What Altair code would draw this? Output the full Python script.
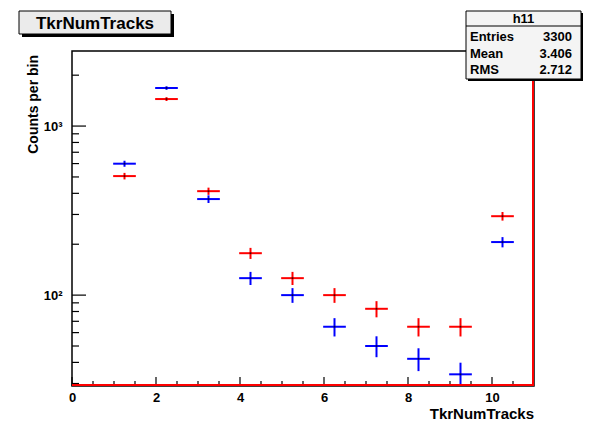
import altair as alt
import pandas as pd
import numpy as np

# Histogram contents (bin centres and counts per bin)
bin_centers = [1.25, 2.25, 3.25, 4.25, 5.25, 6.25, 7.25, 8.25, 9.25, 10.25]
red_counts = [506, 1445, 412, 177, 126, 100, 83, 65, 65, 293]
blue_counts = [599, 1679, 370, 126, 100, 65, 50, 42, 34, 206]
half_bin = 0.27

# Axis ticks
x_major = [0, 2, 4, 6, 8, 10]
x_minor = [0.5, 1, 1.5, 2.5, 3, 3.5, 4.5, 5, 5.5, 6.5, 7, 7.5, 8.5, 9, 9.5, 10.5]
y_major = [100, 1000]
y_minor = [30, 40, 50, 60, 70, 80, 90, 200, 300, 400, 500, 600, 700, 800, 900, 2000]

# Stats box text
stats_name = "h11"
stats_labels = ["Entries", "Mean", "RMS"]
stats_values = ["3300", "3.406", "2.712"]

W, H = 462, 335
FONT = "Liberation Sans"

xscale = alt.Scale(domain=[0, 11], nice=False, zero=False)
yscale = alt.Scale(type="log", domain=[29, 2780], nice=False)

xaxis = alt.Axis(values=x_major, domain=False, ticks=False, grid=False, title=None,
                 labelFont=FONT, labelFontWeight="bold", labelFontSize=13,
                 labelColor="black", labelPadding=5, labelFlush=False)
yaxis = alt.Axis(values=y_major, domain=False, ticks=False, grid=False, title=None,
                 labelFont=FONT, labelFontWeight="bold", labelFontSize=13,
                 labelColor="black", labelPadding=10, labelFlush=False,
                 labelExpr="datum.value == 1000 ? '10\u00b3' : '10\u00b2'")


def series(counts, name):
    c = np.array(counts, dtype=float)
    err = np.sqrt(c)
    return pd.DataFrame({
        "series": name,
        "x": bin_centers,
        "xlo": np.array(bin_centers) - half_bin,
        "xhi": np.array(bin_centers) + half_bin,
        "y": c,
        "ylo": c - err,
        "yhi": c + err,
    })


df = pd.concat([series(blue_counts, "blue"), series(red_counts, "red")], ignore_index=True)
colors = alt.Scale(domain=["blue", "red"], range=["#0000ff", "#ff0000"])

base = alt.Chart(df)

hbars = base.mark_rule(strokeWidth=2, clip=True).encode(
    x=alt.X("xlo:Q", scale=xscale, axis=xaxis),
    x2="xhi:Q",
    y=alt.Y("y:Q", scale=yscale, axis=yaxis),
    color=alt.Color("series:N", scale=colors, legend=None),
)
vbars = base.mark_rule(strokeWidth=2, clip=True).encode(
    x=alt.X("x:Q", scale=xscale, axis=xaxis),
    y=alt.Y("ylo:Q", scale=yscale, axis=yaxis),
    y2="yhi:Q",
    color=alt.Color("series:N", scale=colors, legend=None),
)
dots = base.mark_square(size=3, color="black", opacity=0.7, clip=True).encode(
    x=alt.X("x:Q", scale=xscale, axis=xaxis),
    y=alt.Y("y:Q", scale=yscale, axis=yaxis),
)

# Inward-pointing tick marks on the frame
def xticks(vals, length):
    return alt.Chart(pd.DataFrame({"v": vals})).mark_rule(color="black", strokeWidth=1.2).encode(
        x=alt.X("v:Q", scale=xscale, axis=xaxis),
        y=alt.value(H - length),
        y2=alt.value(H),
    )


def yticks(vals, length):
    return alt.Chart(pd.DataFrame({"v": vals})).mark_rule(color="black", strokeWidth=1.2).encode(
        y=alt.Y("v:Q", scale=yscale, axis=yaxis),
        x=alt.value(0),
        x2=alt.value(length),
    )


one = pd.DataFrame({"k": [0]})

# Red histogram edge along bottom and right side
red_bottom = alt.Chart(one).mark_rule(color="#ff0000", strokeWidth=2).encode(
    x=alt.value(0), x2=alt.value(W - 1), y=alt.value(H - 1))
red_right = alt.Chart(one).mark_rule(color="#ff0000", strokeWidth=2).encode(
    x=alt.value(W - 1), y=alt.value(0), y2=alt.value(H))

# Axis titles
xtitle = alt.Chart(pd.DataFrame({"t": ["TkrNumTracks"]})).mark_text(
    font=FONT, fontWeight="bold", fontSize=15, align="right", baseline="middle", color="black"
).encode(text="t:N", x=alt.value(W), y=alt.value(H + 28))
ytitle = alt.Chart(pd.DataFrame({"t": ["Counts per bin"]})).mark_text(
    font=FONT, fontWeight="bold", fontSize=14, align="right", baseline="middle",
    angle=270, color="black"
).encode(text="t:N", x=alt.value(-38), y=alt.value(4))

# Title box
tb_x0, tb_x1, tb_y0, tb_y1 = -53, 99, -40, -17
title_shadow = alt.Chart(one).mark_rect(color="black").encode(
    x=alt.value(tb_x0 + 3), x2=alt.value(tb_x1 + 3), y=alt.value(tb_y0 + 3), y2=alt.value(tb_y1 + 3))
title_box = alt.Chart(one).mark_rect(fill="#ebebeb", stroke="black", strokeWidth=1).encode(
    x=alt.value(tb_x0), x2=alt.value(tb_x1), y=alt.value(tb_y0), y2=alt.value(tb_y1))
title_text = alt.Chart(pd.DataFrame({"t": ["TkrNumTracks"]})).mark_text(
    font=FONT, fontWeight="bold", fontSize=17, align="center", baseline="middle", color="black"
).encode(text="t:N", x=alt.value((tb_x0 + tb_x1) / 2), y=alt.value((tb_y0 + tb_y1) / 2 + 1))

# Statistics box
sb_x0, sb_x1, sb_y0, sb_y1 = 394, 509, -40, 28
stats_shadow = alt.Chart(one).mark_rect(color="black").encode(
    x=alt.value(sb_x0 + 2), x2=alt.value(sb_x1 + 2), y=alt.value(sb_y0 + 2), y2=alt.value(sb_y1 + 2))
stats_box = alt.Chart(one).mark_rect(fill="#f4f4f4", stroke="black", strokeWidth=1).encode(
    x=alt.value(sb_x0), x2=alt.value(sb_x1), y=alt.value(sb_y0), y2=alt.value(sb_y1))
stats_sep = alt.Chart(one).mark_rule(color="black", strokeWidth=1).encode(
    x=alt.value(sb_x0), x2=alt.value(sb_x1), y=alt.value(-25))
stats_head = alt.Chart(pd.DataFrame({"t": [stats_name]})).mark_text(
    font=FONT, fontWeight="bold", fontSize=13, align="center", baseline="middle", color="black"
).encode(text="t:N", x=alt.value((sb_x0 + sb_x1) / 2), y=alt.value(-32))

stats_df = pd.DataFrame({"label": stats_labels, "value": stats_values, "row": [0, 1, 2]})
row_y = alt.Scale(domain=[0, 2], range=[-14, 19])
stats_lab = alt.Chart(stats_df).mark_text(
    font=FONT, fontWeight="bold", fontSize=13, align="left", baseline="middle", color="black"
).encode(text="label:N", x=alt.value(sb_x0 + 4), y=alt.Y("row:Q", scale=row_y, axis=None))
stats_val = alt.Chart(stats_df).mark_text(
    font=FONT, fontWeight="bold", fontSize=13, align="right", baseline="middle", color="black"
).encode(text="value:N", x=alt.value(sb_x1 - 9), y=alt.Y("row:Q", scale=row_y, axis=None))

plot = alt.layer(
    hbars, vbars, dots,
    xticks(x_major, 9), xticks(x_minor, 5),
    yticks(y_major, 14), yticks(y_minor, 7),
    red_bottom, red_right,
    xtitle, ytitle,
    title_shadow, title_box, title_text,
    stats_shadow, stats_box, stats_sep, stats_head,
).resolve_scale(y="shared", x="shared")

chart = alt.layer(plot, stats_lab, stats_val).resolve_scale(y="independent").properties(
    width=W,
    height=H,
    autosize=alt.AutoSizeParams(type="none"),
    padding={"left": 72, "top": 51, "right": 589 - 72 - W, "bottom": 421 - 51 - H},
    background="white",
).configure_view(stroke="black", strokeWidth=1.5)

chart.save("out.html", embed_options={"renderer": "svg", "actions": False})
